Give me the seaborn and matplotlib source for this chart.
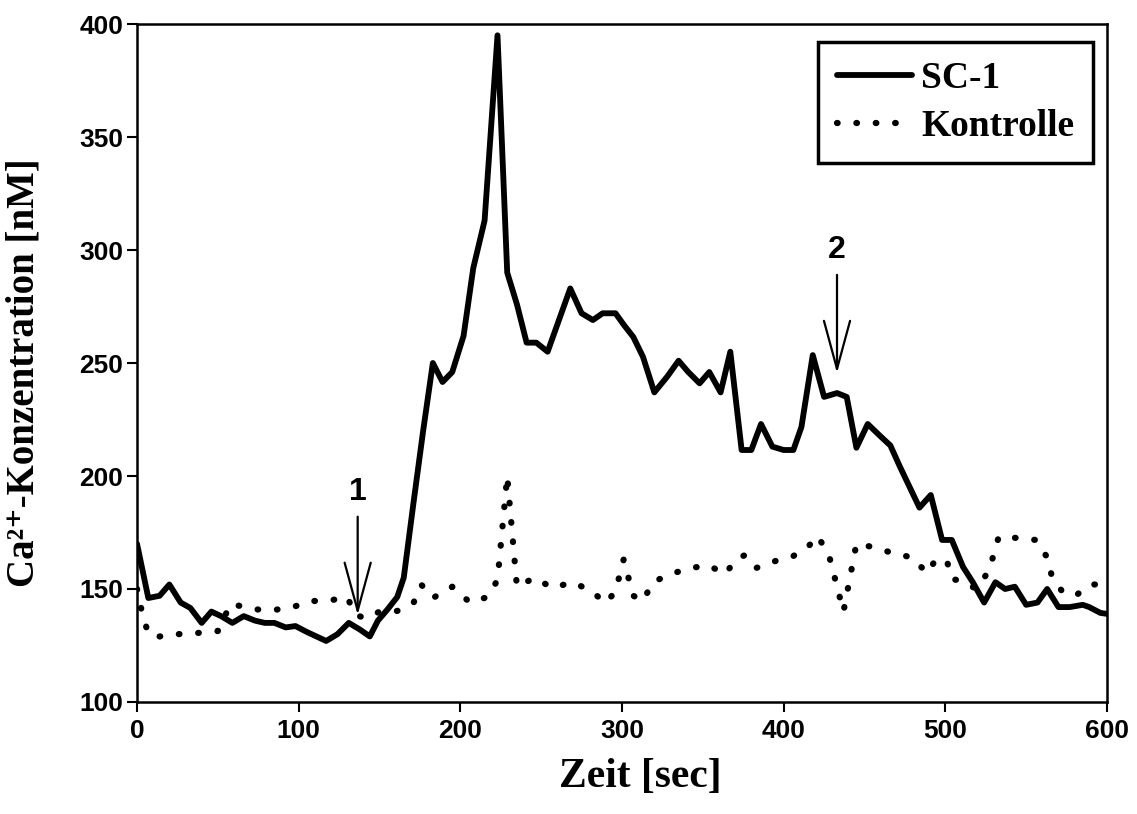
import matplotlib
matplotlib.use('Agg')
import matplotlib.pyplot as plt
import seaborn as sns

# SC-1 (durchgezogene Linie)
zeit_sc1 = [0, 7, 14, 20, 27, 33, 40, 46, 52, 59, 66, 73, 79, 85, 92, 98, 105, 111, 117, 124,
            131, 138, 144, 149, 155, 161, 165, 171, 177, 183, 189, 195, 202, 208, 215, 223, 229,
            235, 241, 247, 254, 261, 268, 275, 282, 288, 296, 301, 307, 313, 320, 328, 335, 341,
            348, 354, 361, 367, 374, 380, 386, 393, 400, 406, 411, 418, 425, 433, 439, 445, 452,
            460, 466, 472, 478, 484, 491, 498, 504, 511, 517, 524, 531, 537, 543, 550, 557, 563,
            570, 577, 585, 589, 596, 600]
ca_sc1 = [170, 146, 147, 152, 144, 141.6, 135, 140, 138, 135, 138, 136, 135, 135, 133, 133.6,
          131, 129, 127, 130, 135, 132, 129, 136, 141, 146.5, 155, 188, 220, 250, 241.6, 246,
          262, 292, 313, 395, 290, 276, 259, 259, 255, 269, 283, 272, 269, 272, 272, 267, 261.5,
          252.7, 237, 244, 251, 246, 241, 246, 237, 255, 211.5, 211.5, 223, 213, 211.5, 211.5,
          221.7, 253.5, 235, 236.7, 235, 212.5, 223, 217.5, 213.5, 204, 195, 186, 191.6, 171.7,
          171.7, 159.7, 153, 144, 153, 150, 151, 143, 144, 150, 142, 142, 143, 142, 139.4, 139]

# Kontrolle (gepunktete Linie)
zeit_ktr = [0, 3, 7, 14, 25, 37, 50, 58, 72, 84, 95, 107, 118, 130, 135, 142, 150, 161, 171,
            176, 183, 195, 206, 217, 223, 229, 235, 246, 257, 269, 280, 290, 296, 301, 307, 313,
            319, 330, 341, 353, 364, 370, 376, 383, 395, 406, 415, 421, 428, 437, 445, 455, 467,
            479, 489, 494, 501, 504, 511, 519, 527, 533, 544, 556, 563, 566, 573, 581, 590, 600]
ca_ktr = [150, 140, 130, 129, 130, 130.5, 131.4, 143.5, 141, 140.7, 141.6, 144.7, 144.7, 146.5,
          138.5, 137, 140, 140.3, 143.8, 151.8, 146, 151, 144, 146.5, 154, 200, 151, 155, 150.4,
          153, 149.6, 143.8, 149, 163, 147, 144.7, 153, 156.6, 159, 160.6, 156.6, 162.8, 165,
          159.3, 162.4, 164.6, 168.6, 173.5, 165, 140, 170, 168.6, 166, 164, 157, 163, 162.4,
          154.4, 153.5, 150, 158, 173, 172.6, 171.7, 164, 155.3, 148.2, 147.3, 152, 152]

x_ticks = [0, 100, 200, 300, 400, 500, 600]
y_ticks = [100, 150, 200, 250, 300, 350, 400]

# Pfeile: (x, Spitze, Ende, Beschriftung)
pfeile = [(136.5, 138.5, 182, '1'), (433, 245.5, 289, '2')]

sns.set_theme(style="ticks")
plt.rcParams['font.family'] = ['Liberation Sans', 'DejaVu Sans']
plt.rcParams['text.color'] = 'black'
plt.rcParams['axes.labelcolor'] = 'black'

fig = plt.figure(figsize=(11.37, 8.14), dpi=100)
ax = fig.add_axes([0.1205, 0.1376, 0.8531, 0.8329])

sns.lineplot(x=zeit_sc1, y=ca_sc1, color='black', linewidth=4.2, label='SC-1',
             estimator=None, sort=False, ax=ax)
sns.lineplot(x=zeit_ktr, y=ca_ktr, color='black', linewidth=4.5, label='Kontrolle',
             estimator=None, sort=False, linestyle=(0, (0.1, 3.0)), dash_capstyle='round', ax=ax)

ax.set_xlim(0, 600)
ax.set_ylim(100, 400)
ax.set_xticks(x_ticks, labels=[str(v) for v in x_ticks], fontweight='bold', fontsize=19)
ax.set_yticks(y_ticks, labels=[str(v) for v in y_ticks], fontweight='bold', fontsize=19)
ax.tick_params(direction='out', length=7, width=1.5, color='black', labelcolor='black')
ax.tick_params(axis='x', pad=5)
ax.tick_params(axis='y', pad=3)
for s in ax.spines.values():
    s.set_linewidth(1.8)
    s.set_color('black')

serif = ['Liberation Serif', 'DejaVu Serif']
ax.set_xlabel('Zeit [sec]', family=serif, fontweight='bold', fontsize=30)
ax.set_ylabel('Ca²⁺-Konzentration [nM]', family=serif, fontweight='bold', fontsize=28)
ax.xaxis.set_label_coords(0.5186, -0.082)
ax.yaxis.set_label_coords(-0.097, 0.485)

# Pfeile 1 und 2
for x, spitze, ende, txt in pfeile:
    ax.annotate('', xy=(x, spitze), xytext=(x, ende),
                arrowprops=dict(arrowstyle='->, head_length=1.73, head_width=0.47',
                                color='black', lw=1.6, shrinkA=0, shrinkB=0, mutation_scale=20))
    ax.text(x, ende + 11, txt, ha='center', va='center', fontsize=23, fontweight='bold',
            color='black')

leg = ax.legend(loc='upper right', bbox_to_anchor=(0.9856, 0.9735), borderaxespad=0,
                frameon=True, fancybox=False, edgecolor='black', framealpha=1,
                prop={'family': 'Liberation Serif', 'weight': 'bold', 'size': 27},
                handlelength=2.0, handletextpad=0.25, borderpad=0.5, labelspacing=0.35)
leg.get_frame().set_linewidth(2.5)
for t in leg.get_texts():
    t.set_color('black')

plt.savefig('out.png', dpi=100)
